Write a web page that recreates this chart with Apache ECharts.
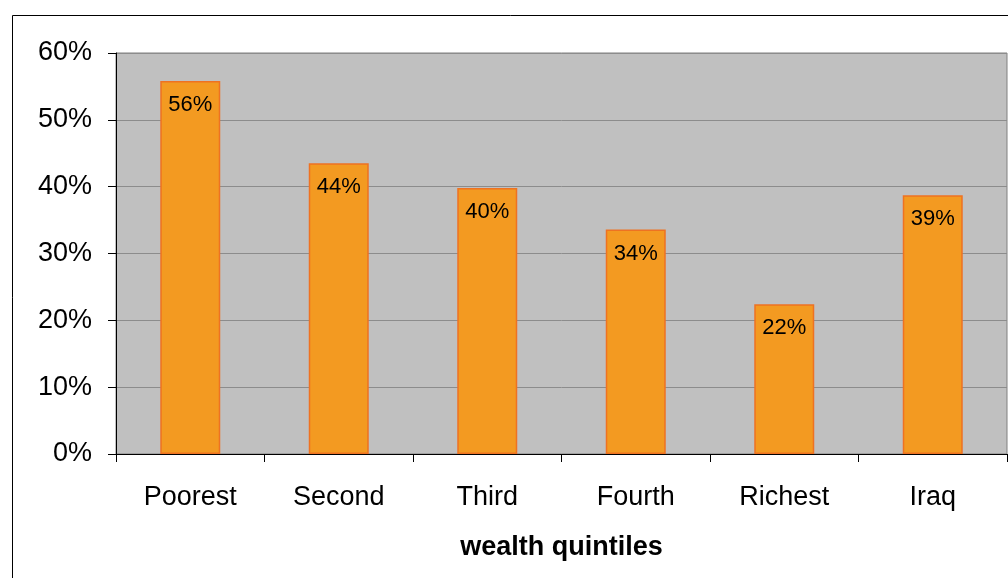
<!DOCTYPE html>
<html>
<head>
<meta charset="utf-8">
<script src="https://cdn.jsdelivr.net/npm/echarts@6/dist/echarts.min.js"></script>
<style>
html,body{margin:0;padding:0;background:#fff;}
#chart{width:1008px;height:578px;}
</style>
</head>
<body>
<div id="chart"></div>
<script>
const categories = ['Poorest', 'Second', 'Third', 'Fourth', 'Richest', 'Iraq'];
const values = [55.8, 43.5, 39.8, 33.6, 22.4, 38.7];
const labelValues = [56, 44, 40, 34, 22, 39];
const yTicks = [0, 10, 20, 30, 40, 50, 60];

const FF = 'Liberation Sans, Arial, sans-serif';
const chart = echarts.init(document.getElementById('chart'), null, {renderer: 'canvas'});
chart.setOption({
  animation: false,
  backgroundColor: '#fff',
  textStyle: {fontFamily: FF},
  graphic: [{
    type: 'rect',
    shape: {x: 12.5, y: 15.5, width: 1100, height: 700},
    style: {fill: 'none', stroke: '#000', lineWidth: 1},
    silent: true, z: -1
  }],
  grid: {
    left: 116, top: 53, right: 1, bottom: 124,
    show: true, backgroundColor: '#C0C0C0', borderColor: '#808080', borderWidth: 1,
    containLabel: false
  },
  xAxis: {
    type: 'category',
    data: categories,
    name: 'wealth quintiles',
    nameLocation: 'middle',
    nameGap: 80,
    nameTextStyle: {fontSize: 27, fontWeight: 'bold', color: '#000', fontFamily: FF},
    axisLine: {show: true, lineStyle: {color: '#000', width: 1}},
    axisTick: {show: true, length: 8, inside: false, alignWithLabel: false, lineStyle: {color: '#000'}},
    axisLabel: {fontSize: 27, color: '#000', margin: 30, fontFamily: FF},
    splitLine: {show: false}
  },
  yAxis: {
    type: 'value',
    min: 0, max: 60, interval: 10,
    axisLine: {show: true, lineStyle: {color: '#000', width: 1}},
    axisTick: {show: true, length: 8, lineStyle: {color: '#000'}},
    axisLabel: {fontSize: 27, color: '#000', margin: 24, formatter: v => yTicks.includes(v) ? v + '%' : '', fontFamily: FF},
    splitLine: {show: true, lineStyle: {color: '#8C8C8C', width: 1}}
  },
  series: [{
    type: 'bar',
    data: values,
    barWidth: 60,
    itemStyle: {color: '#F39A21', borderColor: '#EE7222', borderWidth: 1.5},
    label: {
      show: true, position: 'insideTop', distance: 13,
      fontSize: 22, color: '#000', fontFamily: FF,
      formatter: p => labelValues[p.dataIndex] + '%'
    }
  }]
});
</script>
</body>
</html>
